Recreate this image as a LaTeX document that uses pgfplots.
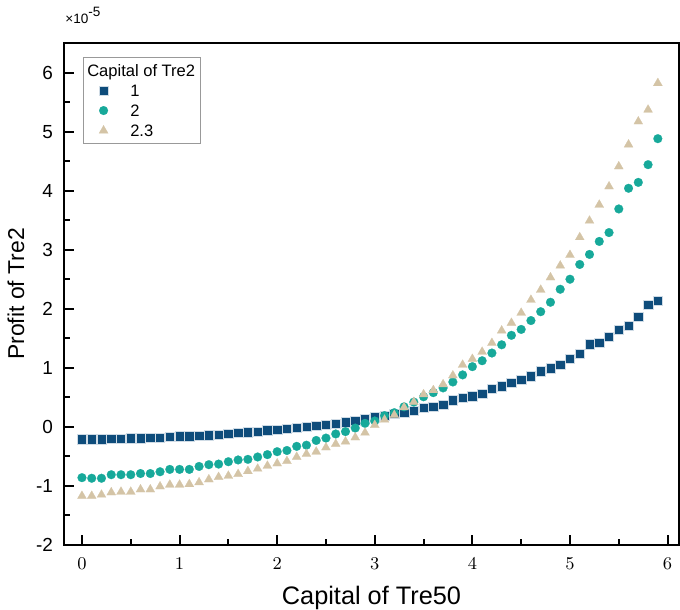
\documentclass[border=0pt]{standalone}
\usepackage{pgfplots}
\pgfplotsset{compat=1.18}
\usepackage{pgfplotstable}
\usepackage{fontspec}
\setmainfont{Liberation Sans}
\definecolor{c1}{HTML}{0E4C7B}
\definecolor{c2}{HTML}{17A99A}
\definecolor{c3}{HTML}{D4C4A6}
\pgfplotstableread{
x s1 s2 s3
0.0 -0.21 -0.86 -1.17
0.1 -0.21 -0.87 -1.17
0.2 -0.21 -0.87 -1.15
0.3 -0.20 -0.81 -1.11
0.4 -0.20 -0.81 -1.10
0.5 -0.19 -0.81 -1.10
0.6 -0.19 -0.79 -1.06
0.7 -0.18 -0.79 -1.06
0.8 -0.18 -0.76 -1.01
0.9 -0.17 -0.72 -0.98
1.0 -0.16 -0.72 -0.98
1.1 -0.16 -0.72 -0.97
1.2 -0.15 -0.67 -0.94
1.3 -0.14 -0.64 -0.89
1.4 -0.13 -0.63 -0.85
1.5 -0.12 -0.59 -0.83
1.6 -0.10 -0.56 -0.80
1.7 -0.09 -0.55 -0.75
1.8 -0.08 -0.51 -0.71
1.9 -0.06 -0.47 -0.66
2.0 -0.05 -0.42 -0.62
2.1 -0.03 -0.40 -0.58
2.2 -0.02 -0.33 -0.51
2.3 0.00 -0.31 -0.46
2.4 0.02 -0.23 -0.42
2.5 0.04 -0.19 -0.35
2.6 0.05 -0.12 -0.29
2.7 0.08 -0.08 -0.25
2.8 0.10 -0.02 -0.18
2.9 0.13 0.06 -0.10
3.0 0.16 0.10 0.03
3.1 0.19 0.19 0.12
3.2 0.22 0.24 0.20
3.3 0.24 0.34 0.33
3.4 0.27 0.42 0.42
3.5 0.32 0.51 0.55
3.6 0.34 0.58 0.62
3.7 0.37 0.66 0.72
3.8 0.45 0.76 0.87
3.9 0.49 0.88 1.05
4.0 0.52 1.02 1.15
4.1 0.56 1.12 1.27
4.2 0.65 1.25 1.42
4.3 0.69 1.39 1.63
4.4 0.75 1.55 1.76
4.5 0.80 1.65 1.93
4.6 0.86 1.80 2.15
4.7 0.94 1.95 2.32
4.8 0.99 2.11 2.53
4.9 1.05 2.33 2.73
5.0 1.15 2.50 2.91
5.1 1.24 2.75 3.21
5.2 1.40 2.92 3.49
5.3 1.42 3.14 3.76
5.4 1.53 3.29 4.07
5.5 1.64 3.69 4.41
5.6 1.71 4.04 4.78
5.7 1.86 4.14 5.17
5.8 2.07 4.44 5.37
5.9 2.14 4.88 5.82
}\datatab
\begin{document}
\begin{tikzpicture}
\begin{axis}[name=ax, scale only axis, width=307.5bp, height=251bp,
  xmin=-0.184, xmax=6.117, ymin=-2, ymax=6.5,
  xtick={0,...,6}, ytick={-2,...,6},
  minor x tick num=1, minor y tick num=1,
  tick align=inside, xtick pos=bottom, ytick pos=left,
  axis line style={line width=1bp},
  every tick/.style={black, line width=1bp},
  major tick length=5bp, minor tick length=3bp,
  xticklabel style={font=\fontsize{9.5}{11}\selectfont, yshift=-3bp},
  yticklabel style={font=\fontsize{9.5}{11}\selectfont, xshift=-2bp},
  yticklabel={\pgfmathprintnumber[assume math mode=true]{\tick}},
  xlabel={Capital of Tre50}, ylabel={Profit of Tre2},
  xlabel style={font=\fontsize{12.7}{14}\selectfont, at={(axis description cs:0.5,-0.1195)}, anchor=base},
  ylabel style={font=\fontsize{11.5}{14}\selectfont, at={(axis description cs:-0.065,0.5)}, anchor=base},
  legend style={at={(axis description cs:0.031,0.972)}, anchor=north west,
    draw=gray!80, line width=0.5bp, font=\fontsize{8.3}{10}\selectfont,
    inner sep=1.5bp, column sep=10bp,
    nodes={inner xsep=1bp, inner ysep=1.7bp, text height=6.1bp, text depth=0.5bp}},
  legend cell align=left,
]
\addlegendimage{empty legend}
\addlegendentry{\hspace*{-21.5bp}Capital of Tre2}
\addplot[only marks, mark=square*, mark size=2.35bp, mark options={fill=c1, draw=white!80!c1, line width=0.25bp}] table[x=x, y=s1]{\datatab};
\addlegendentry{1}
\addplot[only marks, mark=*, mark size=2.2bp, mark options={fill=c2, draw=c2, line width=0.1bp}] table[x=x, y=s2]{\datatab};
\addlegendentry{2}
\addplot[only marks, mark=triangle*, mark size=2.6bp, mark options={fill=c3, draw=c3, line width=0.1bp}] table[x=x, y=s3]{\datatab};
\addlegendentry{2.3}
\end{axis}
\node[anchor=base west, inner sep=0pt, font=\fontsize{6.8}{7}\selectfont] at ([xshift=0.5bp, yshift=9.5bp]ax.north west) {×10\raisebox{3.5bp}{-5}};
\pgfresetboundingbox
\path[use as bounding box] ([xshift=-32bp, yshift=-32.5bp]ax.south west) rectangle ([xshift=0.5bp, yshift=21.5bp]ax.north east);
\end{tikzpicture}
\end{document}
